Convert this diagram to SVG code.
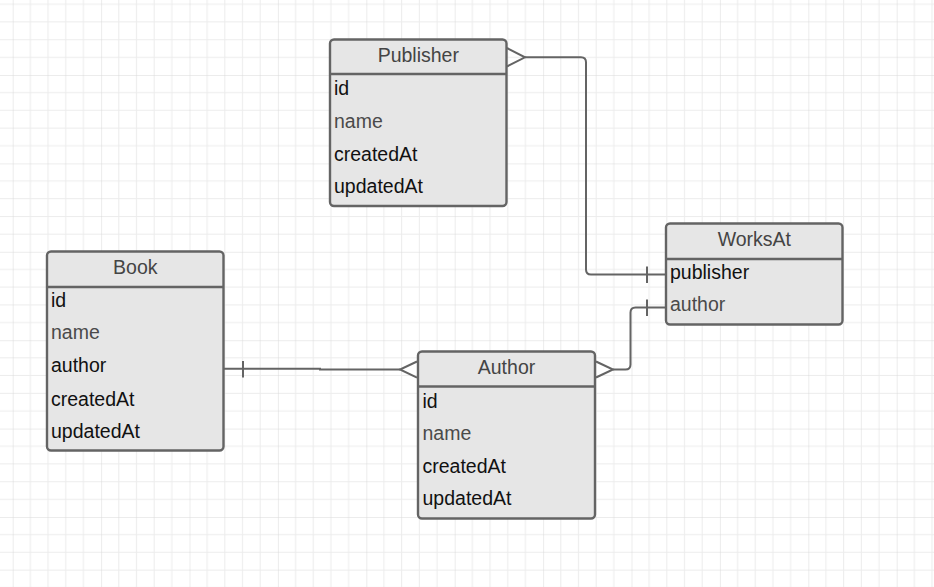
<svg xmlns="http://www.w3.org/2000/svg" width="934" height="587" viewBox="0 0 934 587">
<style>
.box{fill:#e6e6e6;stroke:#646464;stroke-width:2.4}
.sep{stroke:#646464;stroke-width:2.4}
.hdr{font-family:"Liberation Sans",Arial,sans-serif;font-size:19.5px;fill:#444;text-anchor:middle}
.fld{font-family:"Liberation Sans",Arial,sans-serif;font-size:19.5px;fill:#111}
.fld.g{fill:#4a4a4a}
.con{fill:none;stroke:#646464;stroke-width:2}
</style>
<defs>
<pattern id="grid" patternUnits="userSpaceOnUse" x="12.7" y="75" width="88.4" height="88.4">
<g stroke="#ececec" stroke-width="1">
<line x1="17.68" y1="0" x2="17.68" y2="88.4"/>
<line x1="35.36" y1="0" x2="35.36" y2="88.4"/>
<line x1="53.04" y1="0" x2="53.04" y2="88.4"/>
<line x1="70.72" y1="0" x2="70.72" y2="88.4"/>
<line y1="17.68" x1="0" y2="17.68" x2="88.4"/>
<line y1="35.36" x1="0" y2="35.36" x2="88.4"/>
<line y1="53.04" x1="0" y2="53.04" x2="88.4"/>
<line y1="70.72" x1="0" y2="70.72" x2="88.4"/>
</g>
<g stroke="#d9d9d9" stroke-width="1">
<line x1="0" y1="0" x2="0" y2="88.4"/>
<line x1="0" y1="0" x2="88.4" y2="0"/>
</g>
</pattern>
</defs>
<rect width="934" height="587" fill="#ffffff"/>
<rect width="934" height="587" fill="url(#grid)"/>

<g id="connectors">
<!-- Publisher -> WorksAt.publisher -->
<path class="con" d="M507 48 L525 57.3 L507 66.5"/>
<path class="con" d="M525 57.3 H581 Q586 57.3 586 62.3 V269.5 Q586 274.5 591 274.5 H666"/>
<line class="con" x1="647" y1="266.5" x2="647" y2="283"/>
<!-- WorksAt.author -> Author -->
<path class="con" d="M666 307.5 H635.5 Q630.5 307.5 630.5 312.5 V364.5 Q630.5 369.5 625.5 369.5 H613"/>
<line class="con" x1="647" y1="299.5" x2="647" y2="316"/>
<path class="con" d="M596 361.5 L613 369.5 L596 377.5"/>
<!-- Book.author -> Author -->
<path class="con" d="M224 368.8 H320 V369.5 H400"/>
<line class="con" x1="243" y1="361" x2="243" y2="377.5"/>
<path class="con" d="M417 361.5 L400 369.5 L417 377.7"/>
</g>

<g id="publisher">
<rect class="box" x="330" y="39.5" width="176.5" height="166.5" rx="4"/>
<line class="sep" x1="330" y1="74" x2="506.5" y2="74"/>
<text class="hdr" x="418.3" y="61.5">Publisher</text>
<text class="fld" x="334" y="95">id</text>
<text class="fld g" x="334" y="127.5">name</text>
<text class="fld" x="334" y="160.5">createdAt</text>
<text class="fld" x="334" y="193">updatedAt</text>
</g>

<g id="worksat">
<rect class="box" x="666" y="223.5" width="176.5" height="101" rx="4"/>
<line class="sep" x1="666" y1="259" x2="842.5" y2="259"/>
<text class="hdr" x="754.3" y="246">WorksAt</text>
<text class="fld" x="670" y="278.5">publisher</text>
<text class="fld g" x="670" y="311">author</text>
</g>

<g id="book">
<rect class="box" x="47" y="251.5" width="176.5" height="199" rx="4"/>
<line class="sep" x1="47" y1="287" x2="223.5" y2="287"/>
<text class="hdr" x="135.3" y="273.5">Book</text>
<text class="fld" x="51" y="307">id</text>
<text class="fld g" x="51" y="339">name</text>
<text class="fld" x="51" y="372">author</text>
<text class="fld" x="51" y="405.5">createdAt</text>
<text class="fld" x="51" y="437.5">updatedAt</text>
</g>

<g id="author">
<rect class="box" x="418" y="351.5" width="177" height="167" rx="4"/>
<line class="sep" x1="418" y1="386.5" x2="595" y2="386.5"/>
<text class="hdr" x="506.5" y="373.5">Author</text>
<text class="fld" x="422.5" y="407.5">id</text>
<text class="fld g" x="422.5" y="439.5">name</text>
<text class="fld" x="422.5" y="472.5">createdAt</text>
<text class="fld" x="422.5" y="505">updatedAt</text>
</g>
</svg>
